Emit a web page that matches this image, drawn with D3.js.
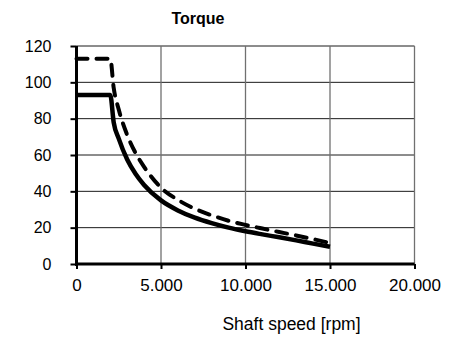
<!DOCTYPE html>
<html>
<head>
<meta charset="utf-8">
<script src="https://cdn.jsdelivr.net/npm/d3@7"></script>
<style>
  body { margin: 0; background: #fff; }
  text { font-family: "Liberation Sans", Arial, sans-serif; fill: #000; }
</style>
</head>
<body>
<div id="vis"></div>
<script>
const FRAME_WIDTH = 455;
const FRAME_HEIGHT = 338;
const MARGINS = {left: 76.5, right: 40.5, top: 46, bottom: 74};

// shaft speed [rpm]
const speed = [0, 2000, 2200, 2500, 3000, 3500, 4000, 5000, 6000, 7000,
               8000, 9000, 10000, 11000, 12000, 13000, 14000, 15000];
// continuous torque (solid)
const torqueSolid = [93, 93, 78, 69, 57.5, 49.5, 43.5, 35, 29.5, 25.5,
                     22.5, 20, 18, 16.3, 14.7, 13, 11.2, 9.5];
// peak torque (dashed)
const torqueDashed = [113, 113, 97, 85, 71, 61, 53.5, 42, 35.3, 30.4,
                      26.8, 23.8, 21.5, 19.5, 17.6, 15.7, 13.7, 11.5];

const xTicks = [0, 5000, 10000, 15000, 20000];
const yTicks = [0, 20, 40, 60, 80, 100, 120];

const VIS_WIDTH = FRAME_WIDTH - MARGINS.left - MARGINS.right;
const VIS_HEIGHT = FRAME_HEIGHT - MARGINS.top - MARGINS.bottom;

const locale = d3.formatLocale({decimal: ",", thousands: ".", grouping: [3], currency: ["", ""]});
const fmt = locale.format(",");

const FRAME = d3.select("#vis")
  .append("svg")
    .attr("width", FRAME_WIDTH)
    .attr("height", FRAME_HEIGHT);

const X_SCALE = d3.scaleLinear().domain([0, 20000]).range([0, VIS_WIDTH]);
const Y_SCALE = d3.scaleLinear().domain([0, 120]).range([VIS_HEIGHT, 0]);

const G = FRAME.append("g")
  .attr("transform", "translate(" + MARGINS.left + "," + MARGINS.top + ")");

// horizontal grid (dark)
G.selectAll(".hgrid")
  .data(yTicks.filter(d => d > 0))
  .enter()
  .append("line")
    .attr("x1", 0).attr("x2", VIS_WIDTH)
    .attr("y1", d => Y_SCALE(d)).attr("y2", d => Y_SCALE(d))
    .attr("stroke", "#1a1a1a").attr("stroke-width", 1);

// vertical grid (grey)
G.selectAll(".vgrid")
  .data(xTicks.filter(d => d > 0))
  .enter()
  .append("line")
    .attr("x1", d => X_SCALE(d)).attr("x2", d => X_SCALE(d))
    .attr("y1", 0).attr("y2", VIS_HEIGHT)
    .attr("stroke", "#707070").attr("stroke-width", 1.3);

// y axis
const yAxis = G.append("g")
  .call(d3.axisLeft(Y_SCALE).tickValues(yTicks).tickSize(6).tickPadding(19));
yAxis.select(".domain").attr("stroke-width", 3).attr("d", "M0," + (VIS_HEIGHT + 2) + "V0");
yAxis.selectAll(".tick line").attr("stroke-width", 2);
yAxis.selectAll("text").attr("font-size", "16px").attr("font-family", "Liberation Sans, Arial, sans-serif");

// x axis
const xAxis = G.append("g")
  .attr("transform", "translate(0," + VIS_HEIGHT + ")")
  .call(d3.axisBottom(X_SCALE).tickValues(xTicks).tickFormat(fmt).tickSize(5).tickPadding(10));
xAxis.select(".domain").attr("stroke-width", 3).attr("d", "M0,0H" + VIS_WIDTH);
xAxis.selectAll(".tick line").attr("stroke-width", 2);
xAxis.selectAll("text").attr("font-size", "17px").attr("font-family", "Liberation Sans, Arial, sans-serif");

// curves
const line = d3.line()
  .x((d, i) => X_SCALE(speed[i]))
  .y(d => Y_SCALE(d))
  .curve(d3.curveMonotoneX);

G.append("path")
  .datum(torqueDashed)
  .attr("d", line)
  .attr("fill", "none")
  .attr("stroke", "#000")
  .attr("stroke-width", 4)
  .attr("stroke-linecap", "round")
  .attr("stroke-dasharray", "11,9");

G.append("path")
  .datum(torqueSolid)
  .attr("d", line)
  .attr("fill", "none")
  .attr("stroke", "#000")
  .attr("stroke-width", 4.5);

// title
FRAME.append("text")
  .attr("x", 198).attr("y", 24)
  .attr("text-anchor", "middle")
  .attr("font-size", "16px")
  .attr("font-weight", "bold")
  .text("Torque");

// x axis title
FRAME.append("text")
  .attr("x", 291.5).attr("y", 330)
  .attr("text-anchor", "middle")
  .attr("font-size", "17.5px")
  .text("Shaft speed [rpm]");
</script>
</body>
</html>
